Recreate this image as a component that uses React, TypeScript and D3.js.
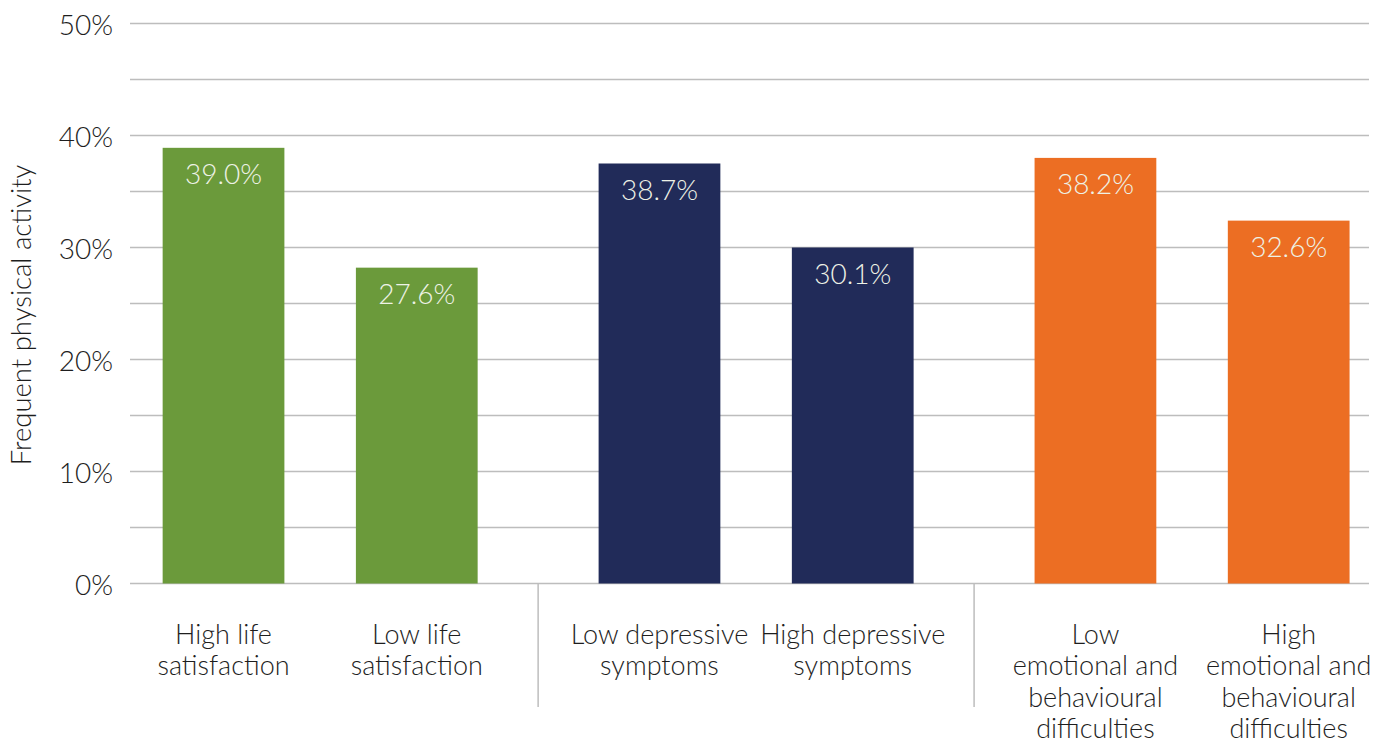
import React from "react";
import * as d3 from "d3";

const groups = ["Life satisfaction", "Depressive symptoms", "Emotional and behavioural difficulties"];
const categories = [
  "High life\nsatisfaction",
  "Low life\nsatisfaction",
  "Low depressive\nsymptoms",
  "High depressive\nsymptoms",
  "Low\nemotional and\nbehavioural\ndifficulties",
  "High\nemotional and\nbehavioural\ndifficulties",
];
const categoryGroup = [0, 0, 1, 1, 2, 2];
const categoryInGroup = [0, 1, 0, 1, 0, 1];
// bar heights as drawn in the picture
const barValues = [38.9, 28.2, 37.5, 30.0, 38.0, 32.4];
// printed data labels
const dataLabels = [39.0, 27.6, 38.7, 30.1, 38.2, 32.6];
const groupColors = ["#6b9a3b", "#212b59", "#ec6e23"];
const yTicks = [0, 10, 20, 30, 40, 50];
const yGrid = [0, 5, 10, 15, 20, 25, 30, 35, 40, 45, 50];
const yTitle = "Frequent physical activity";

const W = 1394;
const H = 744;
const plotLeft = 130;
const plotRight = 1369;
const plotTop = 23.5;
const plotBottom = 583.5;
const FONT = "Lato, 'Open Sans', sans-serif";
const TEXT = "#1e1e1e";

export default function App() {
  const y = d3.scaleLinear().domain([0, 50]).range([plotBottom, plotTop]);
  const gx = d3
    .scalePoint<number>()
    .domain([0, 1, 2])
    .range([plotLeft, plotRight])
    .padding(0.421)
    .align(0.518);
  const inner = d3.scaleBand<number>().domain([0, 1]).range([-157.5, 157.5]).paddingInner(0.37).paddingOuter(0);
  const fmt = d3.format(".1f");

  const barX = (i: number) => (gx(categoryGroup[i]) as number) + (inner(categoryInGroup[i]) as number);
  const separators = [0, 1].map((g) => ((gx(g) as number) + (gx(g + 1) as number)) / 2);

  return (
    <svg
      width={W}
      height={H}
      style={{ position: "absolute", left: 0, top: 0, background: "#fff" }}
      fontFamily={FONT}
    >
      {yGrid.map((v) => (
        <line key={v} x1={plotLeft} x2={plotRight} y1={y(v)} y2={y(v)} stroke="#bdbdbd" strokeWidth={1.5} />
      ))}
      {yTicks.map((v) => (
        <text
          key={v}
          x={113}
          y={y(v)}
          textAnchor="end"
          dominantBaseline="central"
          fontSize={28}
          fontWeight={300}
          fill={TEXT}
        >
          {v}%
        </text>
      ))}
      <text
        transform={`translate(31, 315) rotate(-90)`}
        textAnchor="middle"
        fontSize={27.5}
        fontWeight={300}
        fill={TEXT}
      >
        {yTitle}
      </text>
      {separators.map((sx, i) => (
        <line key={i} x1={sx} x2={sx} y1={plotBottom} y2={707} stroke="#bdbdbd" strokeWidth={1.5} />
      ))}
      {barValues.map((v, i) => (
        <g key={i}>
          <rect
            x={barX(i)}
            y={y(v)}
            width={inner.bandwidth()}
            height={y(0) - y(v)}
            fill={groupColors[categoryGroup[i]]}
          />
          <text
            x={barX(i) + inner.bandwidth() / 2}
            y={y(v) + 36}
            textAnchor="middle"
            fontSize={28}
            fontWeight={300}
            fill="#eef2e6"
          >
            {fmt(dataLabels[i])}%
          </text>
          {categories[i].split("\n").map((line, j) => (
            <text
              key={j}
              x={barX(i) + inner.bandwidth() / 2}
              y={644 + j * 31.3}
              textAnchor="middle"
              fontSize={27}
              fontWeight={300}
              fill={TEXT}
            >
              {line}
            </text>
          ))}
        </g>
      ))}
    </svg>
  );
}
